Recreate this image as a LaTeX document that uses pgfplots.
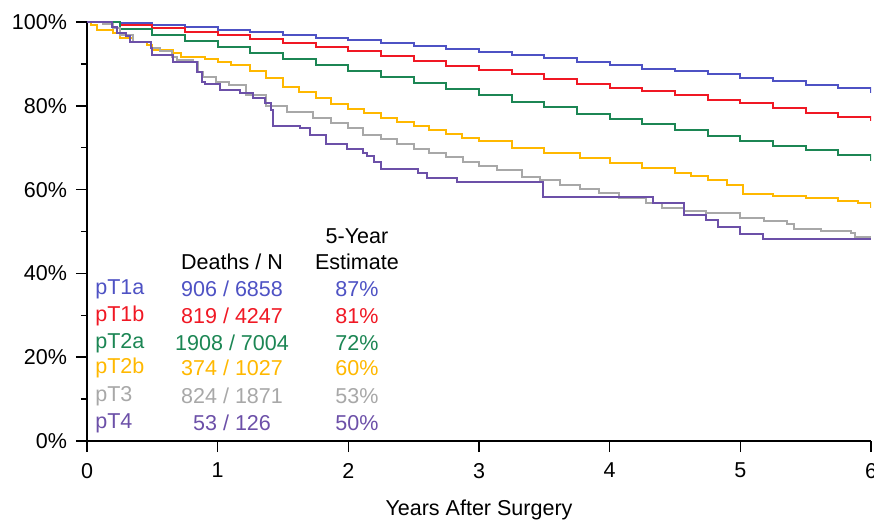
\documentclass[border=0pt]{standalone}
\usepackage{pgfplots}
\pgfplotsset{compat=1.18}
\usepackage{fontspec}
\setmainfont{Liberation Sans}

\definecolor{cTa}{RGB}{78,82,196}
\definecolor{cTb}{RGB}{240,24,36}
\definecolor{cTc}{RGB}{28,134,84}
\definecolor{cTd}{RGB}{255,184,0}
\definecolor{cTe}{RGB}{168,168,168}
\definecolor{cTf}{RGB}{108,80,168}

\begin{document}
\begin{tikzpicture}
\begin{axis}[
  scale only axis, width=392bp, height=209.5bp,
  xmin=0, xmax=6, ymin=0, ymax=100,
  axis x line*=bottom, axis y line*=left,
  axis line style={-, line width=0.75bp},
  tick align=outside,
  major tick length=5.5bp, minor tick length=3bp,
  every tick/.style={black, line width=0.75bp},
  xtick={0,1,2,3,4,5,6},
  ytick={0,20,40,60,80,100},
  yticklabels={0\%,20\%,40\%,60\%,80\%,100\%},
  minor ytick={10,30,50,70,90},
  /pgf/number format/assume math mode=true,
  tick label style={font=\fontsize{10.8}{13}\selectfont},
  xticklabel style={yshift=-2bp},
  yticklabel style={xshift=-1bp},
  xlabel={Years After Surgery},
  xlabel style={font=\fontsize{10.8}{13}\selectfont, yshift=-4bp},
  every axis plot/.append style={const plot, line width=1bp, no marks},
]
\coordinate (bl) at (rel axis cs:0,0);
\coordinate (tr) at (rel axis cs:1,1);

% pT1a
\addplot[cTa] coordinates {
(0,100) (0.25,99.8) (0.5,99.3) (0.75,98.9) (1,98.2) (1.25,97.6) (1.5,97) (1.75,96.3)
(2,95.7) (2.25,95) (2.5,94.3) (2.75,93.6) (3,92.8) (3.25,92.1) (3.5,91.3) (3.75,90.5)
(4,89.7) (4.25,88.9) (4.5,88.3) (4.75,87.7) (5,86.7) (5.25,85.8) (5.5,84.9) (5.75,84.3) (6,83)};
% pT1b
\addplot[cTb] coordinates {
(0,100) (0.25,99.3) (0.5,98.5) (0.75,97.7) (1,96.8) (1.25,96) (1.5,95) (1.75,94)
(2,93) (2.25,91.8) (2.5,90.7) (2.75,89.6) (3,88.5) (3.25,87.5) (3.5,86.3) (3.75,85.3)
(4,84.3) (4.25,83.5) (4.5,82.6) (4.75,81.5) (5,80.6) (5.25,79.5) (5.5,78.4) (5.75,77.4) (6,76.4)};
% pT2a
\addplot[cTc] coordinates {
(0,100) (0.25,98.4) (0.5,96.9) (0.75,95.4) (1,94) (1.25,92.6) (1.5,91.2) (1.75,89.7)
(2,88.2) (2.25,86.8) (2.5,85.4) (2.75,84) (3,82.5) (3.25,81) (3.5,79.7) (3.75,78)
(4,76.8) (4.25,75.6) (4.5,74.2) (4.75,72.8) (5,71.6) (5.25,70.4) (5.5,69.4) (5.75,68.2) (6,66.9)};
% pT2b
\addplot[cTd] coordinates {
(0,100) (0.03,99.2) (0.08,98) (0.2,97.3) (0.25,96.1) (0.35,95.3) (0.46,94.5) (0.5,93.3)
(0.66,92.5) (0.72,91.7) (0.9,91.2) (1,90.5) (1.1,89.7) (1.25,88.3) (1.37,86.6) (1.5,84.6)
(1.62,83.2) (1.75,81.8) (1.87,80.5) (2,79.3) (2.12,78.2) (2.25,77.2) (2.37,76.1) (2.5,75.2)
(2.62,74.2) (2.75,73.3) (2.87,72.3) (3,71.5) (3.25,70) (3.5,68.8) (3.77,67.5) (4,66.3)
(4.25,65.1) (4.5,64) (4.62,63.2) (4.75,62.3) (4.9,61) (5.02,58.9) (5.25,58.4) (5.5,57.9)
(5.75,57.3) (5.9,56.8) (6,55.6)};
% pT3
\addplot[cTe] coordinates {
(0,100) (0.12,99.5) (0.2,98.5) (0.25,96.9) (0.35,95.3) (0.49,93.7) (0.56,93) (0.65,91.7)
(0.69,90.9) (0.81,90.5) (0.85,88.1) (0.89,86.9) (0.99,85.7) (1.09,85) (1.22,82.5) (1.37,80)
(1.53,78.6) (1.73,77) (1.87,75.8) (2,74.6) (2.11,73) (2.25,72) (2.37,71) (2.5,69.8)
(2.62,68.7) (2.75,67.7) (2.88,66.7) (3,65.7) (3.14,64.7) (3.33,62.9) (3.47,62.3) (3.62,61)
(3.77,60.1) (3.92,59.2) (4.07,57.9) (4.28,56.8) (4.4,55.6) (4.57,55) (4.74,54.4) (5,53.2)
(5.18,52.5) (5.36,51.8) (5.41,50.6) (5.62,50.1) (5.85,49.6) (5.88,48.7) (6,48.7)};
% pT4
\addplot[cTf] coordinates {
(0,100) (0.19,98.9) (0.23,97.4) (0.3,96.7) (0.33,95.3) (0.49,93.7) (0.5,92.1) (0.66,90.5)
(0.84,88.1) (0.88,85.7) (0.9,85.2) (1.02,83.8) (1.17,83) (1.27,81.8) (1.36,80.6) (1.41,79)
(1.42,75.2) (1.63,74.6) (1.71,73) (1.83,71) (1.86,70.8) (1.99,69.8) (2.11,68.8) (2.14,67.9)
(2.2,66.7) (2.25,64.8) (2.53,63.9) (2.6,62.8) (2.83,61.9) (3.49,58.2) (4.33,56.9) (4.57,53.9)
(4.74,52.7) (4.83,51.1) (5.0,49.5) (5.17,48.2) (6,48.2)};

% summary table
\begin{scope}[every node/.style={font=\fontsize{10.8}{13}\selectfont, inner sep=0pt}]
\node at (axis cs:2.066,48.9) {5-Year};
\node at (axis cs:2.066,42.7) {Estimate};
\node at (axis cs:1.11,42.7) {Deaths / N};
\node[anchor=west, text=cTa] at (axis cs:0.061,36.3) {pT1a};
\node[anchor=west, text=cTb] at (axis cs:0.061,29.8) {pT1b};
\node[anchor=west, text=cTc] at (axis cs:0.061,23.4) {pT2a};
\node[anchor=west, text=cTd] at (axis cs:0.061,17.4) {pT2b};
\node[anchor=west, text=cTe] at (axis cs:0.061,10.7) {pT3};
\node[anchor=west, text=cTf] at (axis cs:0.061,4.3) {pT4};
\node[text=cTa] at (axis cs:1.11,36.3) {906 / 6858};
\node[text=cTb] at (axis cs:1.11,29.8) {819 / 4247};
\node[text=cTc] at (axis cs:1.11,23.4) {1908 / 7004};
\node[text=cTd] at (axis cs:1.11,17.4) {374 / 1027};
\node[text=cTe] at (axis cs:1.11,10.7) {824 / 1871};
\node[text=cTf] at (axis cs:1.11,4.3) {53 / 126};
\node[text=cTa] at (axis cs:2.066,36.3) {87\%};
\node[text=cTb] at (axis cs:2.066,29.8) {81\%};
\node[text=cTc] at (axis cs:2.066,23.4) {72\%};
\node[text=cTd] at (axis cs:2.066,17.4) {60\%};
\node[text=cTe] at (axis cs:2.066,10.7) {53\%};
\node[text=cTf] at (axis cs:2.066,4.3) {50\%};
\end{scope}
\end{axis}
\pgfresetboundingbox
\path[use as bounding box] ([xshift=-43.5bp,yshift=-44.5bp]bl) rectangle ([xshift=1.5bp,yshift=11bp]tr);
\end{tikzpicture}
\end{document}
